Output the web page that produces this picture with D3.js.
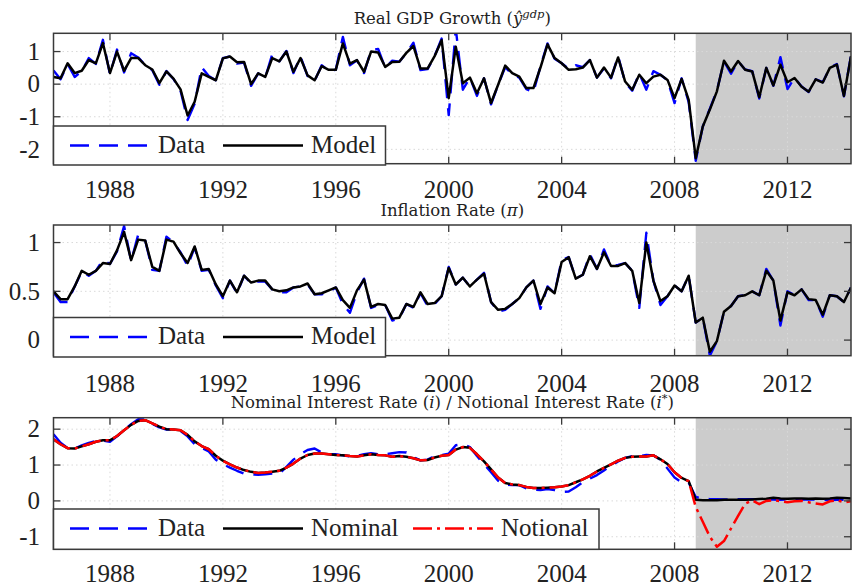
<!DOCTYPE html>
<html>
<head>
<meta charset="utf-8">
<script src="https://cdn.jsdelivr.net/npm/d3@7"></script>
<style>
  html, body { margin: 0; padding: 0; background: #fff; }
  svg { display: block; }
</style>
</head>
<body>
<svg id="chart" width="852" height="585"></svg>
<script>
// Quarterly observations, first one is 1986Q1, last one 2014Q2
const startYear = 1986;
const zlbStart = 2008.75;          // shaded zero-lower-bound period begins
const yearTicks = [1988, 1992, 1996, 2000, 2004, 2008, 2012];
const gdpTicks = [-2, -1, 0, 1];
const inflationTicks = [0, 0.5, 1];
const rateTicks = [-1, 0, 1, 2];

const gdpLegend = ["Data", "Model"];
const inflationLegend = ["Data", "Model"];
const rateLegend = ["Data", "Nominal", "Notional"];

// Real GDP growth, observed
const gdpData = [0.42,0.15,0.62,0.22,0.40,0.80,0.62,1.36,0.30,1.06,0.36,0.95,0.82,0.58,0.43,-0.02,0.40,0.16,-0.20,-1.10,-0.60,0.52,0.25,0.12,0.80,0.85,0.63,0.66,-0.05,0.33,0.20,0.92,0.70,1.02,0.34,0.85,0.25,0.10,0.58,0.42,0.44,1.45,0.58,0.73,0.34,1.04,1.08,0.50,0.72,0.69,0.95,1.27,0.43,0.46,0.86,1.40,-0.95,
  1.70,-0.17,0.20,-0.36,0.18,-0.62,-0.02,0.52,0.30,0.20,-0.15,-0.25,0.55,1.25,0.78,0.64,0.47,0.58,0.52,0.74,0.20,0.48,0.18,0.86,0.05,-0.20,0.33,-0.17,0.40,0.29,0.12,-0.58,0.18,-0.55,-2.35,-1.30,-0.75,-0.20,0.70,0.32,0.70,0.45,0.40,-0.44,0.50,-0.05,0.83,-0.15,0.20,-0.07,-0.24,0.15,0.06,0.50,0.62,-0.37,0.88];
// Real GDP growth, model fit
const gdpModel = [0.22,0.18,0.64,0.34,0.41,0.74,0.64,1.26,0.34,1.00,0.41,0.80,0.80,0.58,0.45,0.03,0.39,0.17,-0.16,-0.96,-0.54,0.33,0.22,0.12,0.79,0.85,0.67,0.68,0.00,0.33,0.22,0.80,0.70,1.00,0.38,0.80,0.27,0.12,0.55,0.44,0.44,1.25,0.63,0.74,0.38,1.00,0.97,0.53,0.68,0.69,0.96,1.17,0.48,0.48,0.86,1.35,-0.43,
  1.15,0.03,0.20,-0.28,0.18,-0.58,-0.02,0.57,0.34,0.23,-0.12,-0.12,0.51,1.22,0.80,0.64,0.44,0.46,0.51,0.74,0.20,0.51,0.20,0.82,0.08,-0.17,0.29,0.03,0.23,0.29,0.13,-0.43,0.16,-0.48,-2.27,-1.30,-0.78,-0.22,0.72,0.39,0.71,0.44,0.39,-0.40,0.50,-0.04,0.60,0.06,0.19,-0.08,-0.23,0.15,0.05,0.50,0.60,-0.36,0.86];

// Inflation rate, observed
const inflationData = [0.49,0.39,0.39,0.55,0.70,0.66,0.71,0.82,0.78,0.91,1.17,0.81,1.08,1.02,0.72,0.71,1.06,1.00,0.90,0.76,0.95,0.71,0.72,0.56,0.43,0.61,0.48,0.66,0.58,0.60,0.60,0.52,0.49,0.49,0.54,0.55,0.57,0.47,0.47,0.49,0.54,0.37,0.28,0.49,0.63,0.33,0.36,0.36,0.20,0.22,0.37,0.33,0.48,0.35,0.37,0.45,0.75,
  0.57,0.64,0.55,0.62,0.69,0.39,0.29,0.31,0.37,0.43,0.54,0.61,0.32,0.55,0.48,0.82,0.85,0.63,0.67,0.88,0.73,0.93,0.76,0.77,0.79,0.71,0.33,1.10,0.61,0.36,0.45,0.56,0.50,0.66,0.18,0.23,-0.16,-0.01,0.29,0.35,0.45,0.46,0.50,0.46,0.73,0.61,0.15,0.50,0.46,0.52,0.41,0.41,0.24,0.46,0.45,0.39,0.54];
// Inflation rate, model fit
const inflationModel = [0.50,0.42,0.42,0.55,0.71,0.67,0.71,0.79,0.78,0.92,1.11,0.82,1.03,1.02,0.75,0.71,1.03,1.01,0.89,0.79,0.96,0.72,0.73,0.57,0.45,0.61,0.49,0.66,0.59,0.61,0.61,0.52,0.50,0.51,0.54,0.55,0.58,0.47,0.48,0.51,0.54,0.41,0.33,0.51,0.62,0.34,0.37,0.36,0.22,0.23,0.37,0.34,0.49,0.37,0.38,0.45,0.74,
  0.57,0.64,0.55,0.62,0.68,0.39,0.31,0.32,0.37,0.43,0.54,0.61,0.37,0.54,0.48,0.80,0.85,0.63,0.67,0.86,0.73,0.90,0.76,0.76,0.79,0.71,0.38,1.00,0.61,0.40,0.45,0.56,0.50,0.66,0.18,0.23,-0.12,-0.01,0.29,0.35,0.45,0.46,0.50,0.46,0.71,0.61,0.20,0.49,0.46,0.52,0.42,0.41,0.26,0.46,0.45,0.39,0.54];

// Short-term interest rate, observed
const rateData = [1.86,1.62,1.47,1.46,1.55,1.62,1.67,1.68,1.65,1.80,1.97,2.14,2.28,2.27,2.15,2.05,1.99,1.99,1.95,1.80,1.58,1.48,1.38,1.15,1.02,0.93,0.84,0.76,0.74,0.73,0.74,0.76,0.76,0.95,1.15,1.30,1.42,1.46,1.35,1.30,1.30,1.27,1.24,1.26,1.30,1.33,1.30,1.30,1.33,1.36,1.35,1.22,1.13,1.15,1.25,1.28,1.32,
  1.55,1.58,1.50,1.25,1.02,0.80,0.56,0.45,0.44,0.44,0.35,0.32,0.30,0.33,0.30,0.25,0.26,0.38,0.52,0.62,0.72,0.85,0.98,1.10,1.20,1.25,1.25,1.28,1.27,1.15,0.90,0.65,0.52,0.51,0.11,0.06,0.05,0.05,0.04,0.04,0.05,0.05,0.05,0.04,0.04,0.04,0.03,0.04,0.04,0.04,0.04,0.04,0.03,0.02,0.03,0.03,0.03];
// Nominal rate, model fit (bounded at zero)
const rateNominal = [1.72,1.58,1.47,1.46,1.52,1.58,1.65,1.69,1.69,1.81,1.97,2.12,2.23,2.25,2.16,2.07,2.00,1.99,1.97,1.84,1.66,1.53,1.44,1.26,1.12,1.02,0.93,0.86,0.81,0.78,0.79,0.81,0.84,0.93,1.04,1.18,1.28,1.32,1.32,1.30,1.28,1.27,1.25,1.24,1.27,1.30,1.28,1.27,1.23,1.25,1.23,1.19,1.13,1.14,1.21,1.26,1.28,
  1.43,1.50,1.48,1.30,1.10,0.88,0.65,0.50,0.46,0.44,0.39,0.36,0.36,0.37,0.38,0.40,0.44,0.52,0.60,0.70,0.82,0.92,1.02,1.12,1.20,1.23,1.24,1.24,1.27,1.16,1.03,0.80,0.64,0.55,0.03,0.02,0.02,0.02,0.03,0.03,0.03,0.03,0.04,0.05,0.06,0.09,0.07,0.06,0.07,0.07,0.06,0.07,0.06,0.07,0.09,0.08,0.07];
// Notional (shadow) rate, model fit
const rateNotional = [1.72,1.58,1.47,1.46,1.52,1.58,1.65,1.69,1.69,1.81,1.97,2.12,2.23,2.25,2.16,2.07,2.00,1.99,1.97,1.84,1.66,1.53,1.44,1.26,1.12,1.02,0.93,0.86,0.81,0.78,0.79,0.81,0.84,0.93,1.04,1.18,1.28,1.32,1.32,1.30,1.28,1.27,1.25,1.24,1.27,1.30,1.28,1.27,1.23,1.25,1.23,1.19,1.13,1.14,1.21,1.26,1.28,
  1.43,1.50,1.48,1.30,1.10,0.88,0.65,0.50,0.46,0.44,0.39,0.36,0.36,0.37,0.38,0.40,0.44,0.52,0.60,0.70,0.82,0.92,1.02,1.12,1.20,1.23,1.24,1.24,1.27,1.16,1.03,0.80,0.64,0.55,-0.17,-0.58,-1.00,-1.28,-1.12,-0.77,-0.42,-0.08,0.01,-0.09,0.00,0.02,-0.01,-0.04,-0.01,0.00,-0.04,-0.07,-0.10,-0.01,0.02,-0.04,-0.01];

// ---------------------------------------------------------------
const svg = d3.select("#chart");
const x = d3.scaleLinear().domain([startYear, 2014.25]).range([53.5, 851]);
const dateOf = i => startYear + i / 4;

const serif = "'Liberation Serif', 'Times New Roman', serif";
const titleFont = "'DejaVu Serif', serif";
const frameColor = "#3a3a3a";

const styles = {
  data:     { stroke: "#0000ff", width: 2.4, dash: "19,10" },
  model:    { stroke: "#000000", width: 2.5, dash: null },
  notional: { stroke: "#ff0000", width: 2.5, dash: "19,5,3,5" }
};

const panels = [
  {
    id: "gdp", top: 33.3, bottom: 163.7, yDomain: [-2.44, 1.56], yTicks: gdpTicks,
    titleY: 24, tickLabelY: 197.5,
    title: [["Real GDP Growth (", {}], ["ŷ", {italic: true}], ["gdp", {italic: true, sup: true}], [")", {}]],
    series: [[gdpData, "data"], [gdpModel, "model"]],
    legend: { x: 53.5, y: 126, w: 332, h: 39, labels: gdpLegend,
              items: [["data", 70, 158], ["model", 223, 311]] }
  },
  {
    id: "inf", top: 225, bottom: 355.7, yDomain: [-0.16, 1.18], yTicks: inflationTicks,
    titleY: 216, tickLabelY: 391.5,
    title: [["Inflation Rate (", {}], ["π", {italic: true}], [")", {}]],
    series: [[inflationData, "data"], [inflationModel, "model"]],
    legend: { x: 53.5, y: 317.5, w: 332, h: 39.5, labels: inflationLegend,
              items: [["data", 70, 158], ["model", 223, 311]] }
  },
  {
    id: "rate", top: 417.7, bottom: 549.3, yDomain: [-1.35, 2.32], yTicks: rateTicks,
    titleY: 408, tickLabelY: 582,
    title: [["Nominal Interest Rate (", {}], ["i", {italic: true}], [") / Notional Interest Rate (", {}],
            ["i", {italic: true}], ["*", {sup: true}], [")", {}]],
    series: [[rateData, "data"], [rateNominal, "model"], [rateNotional, "notional"]],
    legend: { x: 53.5, y: 509, w: 545.5, h: 40.3, labels: rateLegend,
              items: [["data", 70, 158], ["model", 223, 311], ["notional", 413, 501]] }
  }
];

panels.forEach(p => {
  const y = d3.scaleLinear().domain(p.yDomain).range([p.bottom, p.top]);
  const [x0, x1] = x.range();
  const g = svg.append("g");

  // clip region for the plotted series
  svg.append("defs").append("clipPath").attr("id", "clip-" + p.id)
    .append("rect").attr("x", x0).attr("y", p.top).attr("width", x1 - x0).attr("height", p.bottom - p.top);

  // shaded zero-lower-bound period
  g.append("rect")
    .attr("x", x(zlbStart)).attr("y", p.top)
    .attr("width", x1 - x(zlbStart)).attr("height", p.bottom - p.top)
    .attr("fill", "#cccccc");

  // dotted grid
  const grid = g.append("g").attr("stroke", "#d9d9d9").attr("stroke-width", 1).attr("stroke-dasharray", "1.5,3");
  grid.selectAll(".gx").data(yearTicks).join("line")
    .attr("x1", d => x(d)).attr("x2", d => x(d)).attr("y1", p.top).attr("y2", p.bottom);
  grid.selectAll(".gy").data(p.yTicks).join("line")
    .attr("x1", x0).attr("x2", x1).attr("y1", d => y(d)).attr("y2", d => y(d));

  // series
  const line = d3.line().x((d, i) => x(dateOf(i))).y(d => y(d));
  const lines = g.append("g").attr("clip-path", "url(#clip-" + p.id + ")");
  p.series.forEach(([vals, key]) => {
    const s = styles[key];
    lines.append("path").datum(vals)
      .attr("d", line).attr("fill", "none")
      .attr("stroke", s.stroke).attr("stroke-width", s.width)
      .attr("stroke-linejoin", "round")
      .attr("stroke-dasharray", s.dash);
  });

  // axes: inward ticks on all four sides
  const tickLen = 7;
  const ax = g.append("g").attr("stroke", frameColor).attr("stroke-width", 1.3);
  yearTicks.forEach(t => {
    ax.append("line").attr("x1", x(t)).attr("x2", x(t)).attr("y1", p.bottom).attr("y2", p.bottom - tickLen);
    ax.append("line").attr("x1", x(t)).attr("x2", x(t)).attr("y1", p.top).attr("y2", p.top + tickLen);
  });
  p.yTicks.forEach(v => {
    ax.append("line").attr("x1", x0).attr("x2", x0 + tickLen).attr("y1", y(v)).attr("y2", y(v));
    ax.append("line").attr("x1", x1).attr("x2", x1 - tickLen).attr("y1", y(v)).attr("y2", y(v));
  });
  g.append("rect").attr("x", x0).attr("y", p.top).attr("width", x1 - x0).attr("height", p.bottom - p.top)
    .attr("fill", "none").attr("stroke", frameColor).attr("stroke-width", 1.5);

  // tick labels
  g.append("g").selectAll("text").data(yearTicks).join("text")
    .attr("x", d => x(d)).attr("y", p.tickLabelY)
    .attr("text-anchor", "middle")
    .attr("font-family", serif).attr("font-size", 25).attr("fill", "#222")
    .text(d => d);
  g.append("g").selectAll("text").data(p.yTicks).join("text")
    .attr("x", 40).attr("y", d => y(d)).attr("dy", "0.33em")
    .attr("text-anchor", "end")
    .attr("font-family", serif).attr("font-size", 25).attr("fill", "#222")
    .text(d => String(d));

  // title
  const title = g.append("text")
    .attr("x", (x0 + x1) / 2).attr("y", p.titleY)
    .attr("text-anchor", "middle")
    .attr("font-family", titleFont).attr("font-size", 16.5).attr("fill", "#222");
  let raised = false;
  p.title.forEach(([str, opt]) => {
    const ts = title.append("tspan").text(str);
    if (opt.italic) ts.attr("font-style", "italic");
    if (opt.sup && !raised) { ts.attr("dy", -6.5).attr("font-size", 11.5); raised = true; }
    else if (!opt.sup && raised) { ts.attr("dy", 6.5); raised = false; }
  });

  // legend
  const L = p.legend;
  const lg = g.append("g");
  lg.append("rect").attr("x", L.x).attr("y", L.y).attr("width", L.w).attr("height", L.h)
    .attr("fill", "#fff").attr("stroke", frameColor).attr("stroke-width", 1.5);
  L.items.forEach(([key, lx, tx], k) => {
    const s = styles[key];
    const ly = L.y + 19.5;
    lg.append("line").attr("x1", lx).attr("x2", lx + 80).attr("y1", ly).attr("y2", ly)
      .attr("stroke", s.stroke).attr("stroke-width", s.width).attr("stroke-dasharray", s.dash);
    lg.append("text").attr("x", tx).attr("y", L.y + 26.5)
      .attr("font-family", serif).attr("font-size", 25).attr("fill", "#222")
      .text(L.labels[k]);
  });
});
</script>
</body>
</html>
